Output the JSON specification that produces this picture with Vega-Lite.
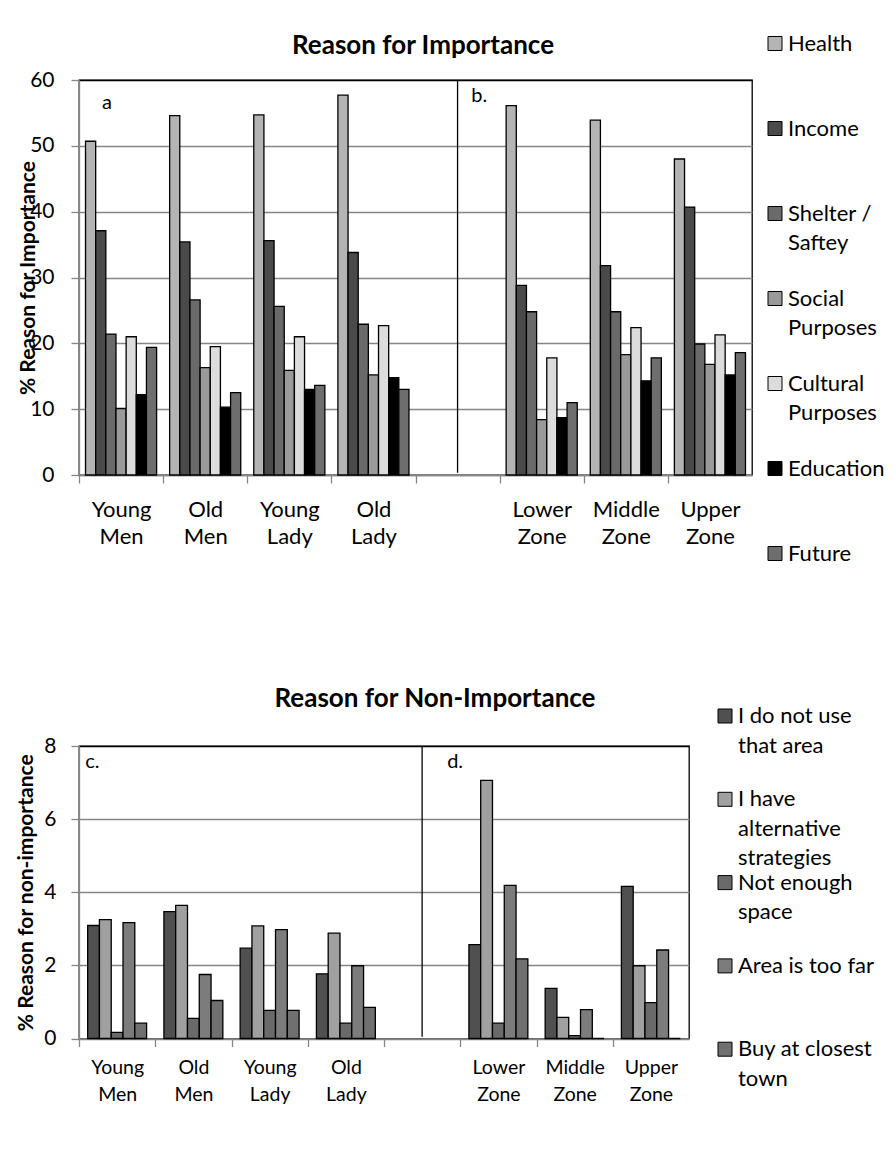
{
  "$schema": "https://vega.github.io/schema/vega-lite/v6.json",
  "padding": {"left": 14, "top": 31, "right": 0, "bottom": 0},
  "background": "white",
  "spacing": 271,
  "bounds": "flush",
  "config": {
    "font": "Lato",
    "view": {"stroke": "black", "strokeWidth": 1.3},
    "style": {"guide-label": {"lineHeight": 29.5}},
    "axis": {"domainColor": "#868686", "tickColor": "#868686", "gridColor": "#868686", "domainWidth": 1.3, "tickWidth": 1.3, "gridWidth": 1.3, "labelColor": "black", "titleColor": "black", "tickSize": 8}
  },
  "resolve": {"scale": {"fill": "independent", "x": "independent", "y": "independent", "xOffset": "independent"}, "legend": {"fill": "independent"}},
  "datasets": {
    "imp": [
      {"group": "Young Men", "reason": "Health", "value": 50.7},
      {"group": "Young Men", "reason": "Income", "value": 37.1},
      {"group": "Young Men", "reason": "Shelter / Saftey", "value": 21.4},
      {"group": "Young Men", "reason": "Social Purposes", "value": 10.1},
      {"group": "Young Men", "reason": "Cultural Purposes", "value": 21.0},
      {"group": "Young Men", "reason": "Education", "value": 12.2},
      {"group": "Young Men", "reason": "Future", "value": 19.4},
      {"group": "Old Men", "reason": "Health", "value": 54.6},
      {"group": "Old Men", "reason": "Income", "value": 35.4},
      {"group": "Old Men", "reason": "Shelter / Saftey", "value": 26.6},
      {"group": "Old Men", "reason": "Social Purposes", "value": 16.3},
      {"group": "Old Men", "reason": "Cultural Purposes", "value": 19.5},
      {"group": "Old Men", "reason": "Education", "value": 10.3},
      {"group": "Old Men", "reason": "Future", "value": 12.5},
      {"group": "Young Lady", "reason": "Health", "value": 54.7},
      {"group": "Young Lady", "reason": "Income", "value": 35.6},
      {"group": "Young Lady", "reason": "Shelter / Saftey", "value": 25.6},
      {"group": "Young Lady", "reason": "Social Purposes", "value": 15.9},
      {"group": "Young Lady", "reason": "Cultural Purposes", "value": 21.0},
      {"group": "Young Lady", "reason": "Education", "value": 13.0},
      {"group": "Young Lady", "reason": "Future", "value": 13.6},
      {"group": "Old Lady", "reason": "Health", "value": 57.7},
      {"group": "Old Lady", "reason": "Income", "value": 33.8},
      {"group": "Old Lady", "reason": "Shelter / Saftey", "value": 22.9},
      {"group": "Old Lady", "reason": "Social Purposes", "value": 15.2},
      {"group": "Old Lady", "reason": "Cultural Purposes", "value": 22.7},
      {"group": "Old Lady", "reason": "Education", "value": 14.8},
      {"group": "Old Lady", "reason": "Future", "value": 13.0},
      {"group": "Lower Zone", "reason": "Health", "value": 56.1},
      {"group": "Lower Zone", "reason": "Income", "value": 28.8},
      {"group": "Lower Zone", "reason": "Shelter / Saftey", "value": 24.8},
      {"group": "Lower Zone", "reason": "Social Purposes", "value": 8.4},
      {"group": "Lower Zone", "reason": "Cultural Purposes", "value": 17.8},
      {"group": "Lower Zone", "reason": "Education", "value": 8.7},
      {"group": "Lower Zone", "reason": "Future", "value": 11.0},
      {"group": "Middle Zone", "reason": "Health", "value": 53.9},
      {"group": "Middle Zone", "reason": "Income", "value": 31.8},
      {"group": "Middle Zone", "reason": "Shelter / Saftey", "value": 24.8},
      {"group": "Middle Zone", "reason": "Social Purposes", "value": 18.3},
      {"group": "Middle Zone", "reason": "Cultural Purposes", "value": 22.4},
      {"group": "Middle Zone", "reason": "Education", "value": 14.3},
      {"group": "Middle Zone", "reason": "Future", "value": 17.8},
      {"group": "Upper Zone", "reason": "Health", "value": 48.0},
      {"group": "Upper Zone", "reason": "Income", "value": 40.7},
      {"group": "Upper Zone", "reason": "Shelter / Saftey", "value": 19.9},
      {"group": "Upper Zone", "reason": "Social Purposes", "value": 16.8},
      {"group": "Upper Zone", "reason": "Cultural Purposes", "value": 21.3},
      {"group": "Upper Zone", "reason": "Education", "value": 15.2},
      {"group": "Upper Zone", "reason": "Future", "value": 18.6}
    ],
    "non": [
      {"group": "Young Men", "reason": "I do not use that area", "value": 3.09},
      {"group": "Young Men", "reason": "I have alternative strategies", "value": 3.25},
      {"group": "Young Men", "reason": "Not enough space", "value": 0.17},
      {"group": "Young Men", "reason": "Area is too far", "value": 3.17},
      {"group": "Young Men", "reason": "Buy at closest town", "value": 0.42},
      {"group": "Old Men", "reason": "I do not use that area", "value": 3.47},
      {"group": "Old Men", "reason": "I have alternative strategies", "value": 3.64},
      {"group": "Old Men", "reason": "Not enough space", "value": 0.55},
      {"group": "Old Men", "reason": "Area is too far", "value": 1.75},
      {"group": "Old Men", "reason": "Buy at closest town", "value": 1.04},
      {"group": "Young Lady", "reason": "I do not use that area", "value": 2.47},
      {"group": "Young Lady", "reason": "I have alternative strategies", "value": 3.08},
      {"group": "Young Lady", "reason": "Not enough space", "value": 0.77},
      {"group": "Young Lady", "reason": "Area is too far", "value": 2.98},
      {"group": "Young Lady", "reason": "Buy at closest town", "value": 0.77},
      {"group": "Old Lady", "reason": "I do not use that area", "value": 1.77},
      {"group": "Old Lady", "reason": "I have alternative strategies", "value": 2.88},
      {"group": "Old Lady", "reason": "Not enough space", "value": 0.42},
      {"group": "Old Lady", "reason": "Area is too far", "value": 1.99},
      {"group": "Old Lady", "reason": "Buy at closest town", "value": 0.85},
      {"group": "Lower Zone", "reason": "I do not use that area", "value": 2.57},
      {"group": "Lower Zone", "reason": "I have alternative strategies", "value": 7.06},
      {"group": "Lower Zone", "reason": "Not enough space", "value": 0.42},
      {"group": "Lower Zone", "reason": "Area is too far", "value": 4.19},
      {"group": "Lower Zone", "reason": "Buy at closest town", "value": 2.18},
      {"group": "Middle Zone", "reason": "I do not use that area", "value": 1.37},
      {"group": "Middle Zone", "reason": "I have alternative strategies", "value": 0.58},
      {"group": "Middle Zone", "reason": "Not enough space", "value": 0.08},
      {"group": "Middle Zone", "reason": "Area is too far", "value": 0.79},
      {"group": "Middle Zone", "reason": "Buy at closest town", "value": 0},
      {"group": "Upper Zone", "reason": "I do not use that area", "value": 4.16},
      {"group": "Upper Zone", "reason": "I have alternative strategies", "value": 1.99},
      {"group": "Upper Zone", "reason": "Not enough space", "value": 0.98},
      {"group": "Upper Zone", "reason": "Area is too far", "value": 2.42},
      {"group": "Upper Zone", "reason": "Buy at closest town", "value": 0}
    ]
  },
  "vconcat": [
    {
      "width": 673,
      "height": 395,
      "title": {"text": "Reason for Importance", "fontSize": 26, "fontWeight": "bold", "baseline": "middle", "frame": "group", "offset": -39, "dx": 7.5, "color": "black"},
      "layer": [
        {
          "data": {"name": "imp"},
          "mark": {"type": "bar", "stroke": "black", "strokeWidth": 1.3},
          "encoding": {
            "x": {"field": "group", "type": "nominal",
              "scale": {"domain": ["Young Men", "Old Men", "Young Lady", "Old Lady", " ", "Lower Zone", "Middle Zone", "Upper Zone"], "paddingInner": 0.155, "paddingOuter": 0.0775},
              "axis": {"title": null, "labelExpr": "split(datum.label, ' ')", "labelFontSize": 22, "labelLineHeight": 27, "labelPadding": 16, "tickOffset": -42.06, "labelOffset": 42.06, "labelAngle": 0, "labelBaseline": "top"}},
            "xOffset": {"field": "reason", "type": "nominal",
              "scale": {"domain": ["Health", "Income", "Shelter / Saftey", "Social Purposes", "Cultural Purposes", "Education", "Future"], "paddingInner": 0, "paddingOuter": 0}},
            "y": {"field": "value", "type": "quantitative",
              "scale": {"domain": [0, 60], "nice": false},
              "axis": {"values": [0, 10, 20, 30, 40, 50, 60], "title": "% Reason for Importance", "titleFontSize": 21, "titleFontWeight": "bold", "titleX": -41, "labelFontSize": 21, "labelPadding": 17, "labelOverlap": false,
                "gridColor": {"condition": {"test": "datum.value === 60", "value": "black"}, "value": "#868686"}}},
            "fill": {"field": "reason", "type": "nominal",
              "scale": {"domain": ["Health", "Income", "Shelter / Saftey", "Social Purposes", "Cultural Purposes", "Education", "Future"], "range": ["#b4b4b4", "#4a4a4a", "#6a6a6a", "#9a9a9a", "#dcdcdc", "#000000", "#6e6e6e"]},
              "legend": {"orient": "none", "legendX": 685, "legendY": -47.5, "title": null, "symbolType": "square", "symbolSize": 196, "symbolStrokeColor": "black", "symbolStrokeWidth": 1, "labelFontSize": 22, "labelLimit": 400, "gridAlign": "all", "rowPadding": 33, "padding": 0, "labelOffset": 2, "labelColor": "black",
                "labelExpr": "datum.label == 'Shelter / Saftey' ? ['Shelter /', 'Saftey'] : datum.label == 'Social Purposes' ? ['Social', 'Purposes'] : datum.label == 'Cultural Purposes' ? ['Cultural', 'Purposes'] : datum.label"}}
          }
        },
        {
          "data": {"values": [{}]},
          "mark": {"type": "rule", "color": "black", "strokeWidth": 1.3},
          "encoding": {"x": {"datum": " ", "type": "nominal"}, "y": {"datum": 60, "type": "quantitative"}, "y2": {"datum": 0.35}}
        },
        {
          "data": {"values": [{}]},
          "mark": {"type": "text", "align": "left", "baseline": "middle", "fontSize": 20, "dx": -19},
          "encoding": {"x": {"datum": "Young Men", "type": "nominal"}, "y": {"datum": 56.5, "type": "quantitative"}, "text": {"value": "a"}}
        },
        {
          "data": {"values": [{}]},
          "mark": {"type": "text", "align": "left", "baseline": "middle", "fontSize": 20, "dx": 13.7},
          "encoding": {"x": {"datum": " ", "type": "nominal"}, "y": {"datum": 57.5, "type": "quantitative"}, "text": {"value": "b."}}
        }
      ]
    },
    {
      "width": 610,
      "height": 292.5,
      "title": {"text": "Reason for Non-Importance", "fontSize": 26, "fontWeight": "bold", "baseline": "middle", "frame": "group", "offset": -19.5, "dx": 51, "color": "black"},
      "layer": [
        {
          "data": {"name": "non"},
          "mark": {"type": "bar", "stroke": "black", "strokeWidth": 1.3},
          "encoding": {
            "x": {"field": "group", "type": "nominal",
              "scale": {"domain": ["Young Men", "Old Men", "Young Lady", "Old Lady", " ", "Lower Zone", "Middle Zone", "Upper Zone"], "paddingInner": 0.227, "paddingOuter": 0.1135},
              "axis": {"title": null, "labelExpr": "split(datum.label, ' ')", "labelFontSize": 19.5, "labelLineHeight": 27, "labelPadding": 12, "tickOffset": -38.125, "labelOffset": 38.125, "labelAngle": 0, "labelBaseline": "top"}},
            "xOffset": {"field": "reason", "type": "nominal",
              "scale": {"domain": ["I do not use that area", "I have alternative strategies", "Not enough space", "Area is too far", "Buy at closest town"], "paddingInner": 0, "paddingOuter": 0}},
            "y": {"field": "value", "type": "quantitative",
              "scale": {"domain": [0, 8], "nice": false},
              "axis": {"values": [0, 1, 2, 3, 4, 5, 6, 7, 8], "title": "% Reason for non-importance", "titleFontSize": 21, "titleFontWeight": "bold", "titleX": -43, "labelFontSize": 21, "labelPadding": 15, "labelOverlap": false,
                "gridColor": {"condition": {"test": "datum.value === 8", "value": "black"}, "value": "#868686"}}},
            "fill": {"field": "reason", "type": "nominal",
              "scale": {"domain": ["I do not use that area", "I have alternative strategies", "Not enough space", "Area is too far", "Buy at closest town"], "range": ["#505050", "#a0a0a0", "#6a6a6a", "#7c7c7c", "#707070"]},
              "legend": {"orient": "none", "legendX": 635, "legendY": -41, "title": null, "symbolType": "square", "symbolSize": 196, "symbolStrokeColor": "black", "symbolStrokeWidth": 1, "labelFontSize": 22, "labelLimit": 400, "gridAlign": "all", "rowPadding": 2.3, "padding": 0, "labelOffset": 2, "labelColor": "black",
                "labelExpr": "datum.label == 'I do not use that area' ? ['I do not use', 'that area'] : datum.label == 'I have alternative strategies' ? ['I have', 'alternative', 'strategies'] : datum.label == 'Not enough space' ? ['Not enough', 'space'] : datum.label == 'Buy at closest town' ? ['Buy at closest', 'town'] : datum.label"}}
          }
        },
        {
          "data": {"values": [{}]},
          "mark": {"type": "rule", "color": "black", "strokeWidth": 1.3},
          "encoding": {"x": {"datum": " ", "type": "nominal"}, "y": {"datum": 8, "type": "quantitative"}, "y2": {"datum": 0.05}}
        },
        {
          "data": {"values": [{}]},
          "mark": {"type": "text", "align": "left", "baseline": "middle", "fontSize": 20, "dx": -32},
          "encoding": {"x": {"datum": "Young Men", "type": "nominal"}, "y": {"datum": 7.55, "type": "quantitative"}, "text": {"value": "c."}}
        },
        {
          "data": {"values": [{}]},
          "mark": {"type": "text", "align": "left", "baseline": "middle", "fontSize": 20, "dx": 25},
          "encoding": {"x": {"datum": " ", "type": "nominal"}, "y": {"datum": 7.55, "type": "quantitative"}, "text": {"value": "d."}}
        }
      ]
    }
  ]
}
